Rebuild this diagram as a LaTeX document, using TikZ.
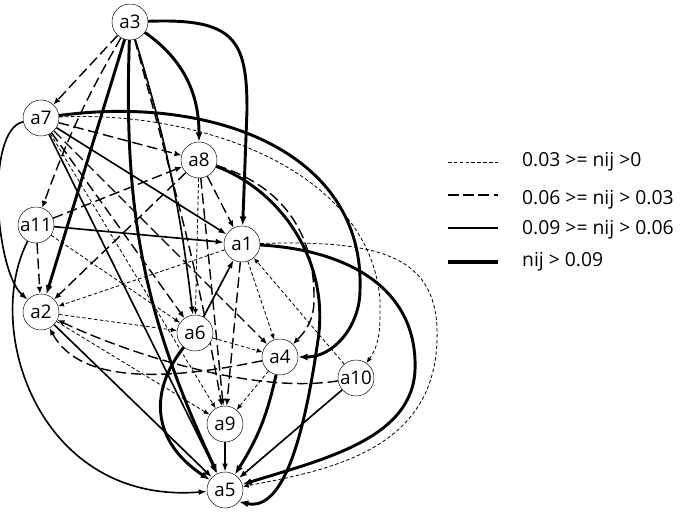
\documentclass[tikz,border=0pt]{standalone}
\usepackage{fontspec}
\setmainfont{Open Sans}
\usetikzlibrary{arrows.meta}
\pgfdeclarelayer{bg}
\pgfsetlayers{bg,main}

\begin{document}
\begin{tikzpicture}[
  x=0.03cm, y=0.03cm,
  state/.style={circle, draw, fill=white, minimum size=1.08cm, inner sep=0pt,
                font=\fontsize{16}{19}\selectfont},
  w1/.style={-{Latex[length=5pt,width=4pt]}, line width=0.7pt, dash pattern=on 3pt off 2pt},
  w2/.style={-{Latex[length=6pt,width=5pt]}, line width=1.2pt, dash pattern=on 9pt off 4pt},
  w3/.style={-{Latex[length=7pt,width=5pt]}, line width=1.4pt},
  w4/.style={-{Latex[length=8pt,width=6pt]}, line width=2.5pt},
  legend/.style={anchor=west, font=\fontsize{16.5}{20}\selectfont}
]
\useasboundingbox (0,0) rectangle (683,-517);

% nodes
\node[state] (a3) at (130,-22) {a3};
\node[state] (a7) at (41,-118) {a7};
\node[state] (a8) at (199,-160) {a8};
\node[state] (a11) at (36,-225) {a11};
\node[state] (a1) at (242,-244) {a1};
\node[state] (a2) at (41,-312) {a2};
\node[state] (a6) at (195,-333) {a6};
\node[state] (a4) at (280,-357) {a4};
\node[state] (a10) at (356,-378) {a10};
\node[state] (a9) at (225,-424) {a9};
\node[state] (a5) at (225,-490) {a5};

\begin{pgfonlayer}{bg}
% from a3
\draw[w2] (a3) -- (a7);
\draw[w2] (a3) to[bend right=5] (a11);
\draw[w4] (a3) -- (a2);
\draw[w4] (a3) to[out=-35,in=90] (a8);
\draw[w4] (a3) .. controls (235,-18) and (247,-40) .. (247,-110) -- (a1);
\draw[w4] (a3) to[out=-92,in=115] (a5);
\draw[w3] (a3) to[bend left=5] (a6);
\draw[w2] (a3) to[out=-75,in=100] (a9);

% from a7
\draw[w2] (a7) -- (a8);
\draw[w3] (a7) -- (a1);
\draw[w4] (a7) .. controls (210,-95) and (365,-150) .. (360,-290) to[out=-90,in=0] (a4);
\draw[w1] (a7) .. controls (200,-110) and (370,-170) .. (380,-300) to[out=-90,in=55] (a10);
\draw[w3] (a7) .. controls (-15,-130) and (-5,-270) .. (a2);
\draw[w1] (a7) -- (a9);
\draw[w3] (a7) -- (a5);
\draw[w2] (a7) -- (a4);
\draw[w2] (a7) -- (a6);

% from a11
\draw[w3] (a11) -- (a1);
\draw[w2] (a11) -- (a8);
\draw[w2] (a11) -- (a2);
\draw[w1] (a11) -- (a6);
\draw[w3] (a11) .. controls (-18,-330) and (40,-505) .. (a5);

% from a8
\draw[w2] (a8) -- (a1);
\draw[w2] (a8) -- (a2);
\draw[w1] (a8) -- (a6);
\draw[w2] (a8) -- (a9);
\draw[w2] (a8) .. controls (280,-185) and (315,-230) .. (314,-300) to[out=-90,in=45] (a4);
\draw[w4] (a8) .. controls (280,-190) and (330,-260) .. (318,-340)
  .. controls (305,-430) and (285,-512) .. (a5.-40);

% from a1
\draw[w1] (a1) .. controls (380,-240) and (440,-255) .. (437,-340)
  .. controls (434,-450) and (330,-470) .. (a5);
\draw[w4] (a1) .. controls (350,-250) and (418,-290) .. (415,-370)
  .. controls (412,-440) and (320,-460) .. (a5);
\draw[w2] (a1) -- (a9);
\draw[w1] (a1) -- (a2);
\draw[w1] (a1) -- (a4);

% from a6
\draw[w3] (a6) -- (a1);
\draw[w1] (a6) -- (a4);
\draw[w4] (a6) .. controls (150,-390) and (150,-440) .. (a5);

% from a2
\draw[w3] (a2) -- (a5);
\draw[w1] (a2) -- (a6);
\draw[w1] (a2) -- (a9);

% from a4
\draw[w4] (a4) to[bend left=10] (a5);
\draw[w1] (a4) -- (a9);
\draw[w2] (a4) .. controls (170,-380) and (80,-385) .. (a2);

% from a10
\draw[w2] (a10) .. controls (250,-395) and (120,-350) .. (a2);
\draw[w3] (a10) -- (a5);
\draw[w1] (a10) -- (a1);

% from a9
\draw[w3] (a9) -- (a5);
\end{pgfonlayer}

% legend
\node[legend] (t1) at (518,-162) {0.03 >= nij >0};
\node[legend] (t2) at (518,-200) {0.06 >= nij > 0.03};
\node[legend] (t3) at (518,-230) {0.09 >= nij > 0.06};
\node[legend] (t4) at (518,-262) {nij > 0.09};
\draw[w1,-] (448,-162) -- (498,-162);
\draw[w2,-] (448,-195) -- (498,-195);
\draw[w3,-,line width=1.8pt] (448,-228) -- (498,-228);
\draw[w4,-,line width=3pt] (448,-262) -- (498,-262);
\end{tikzpicture}
\end{document}
